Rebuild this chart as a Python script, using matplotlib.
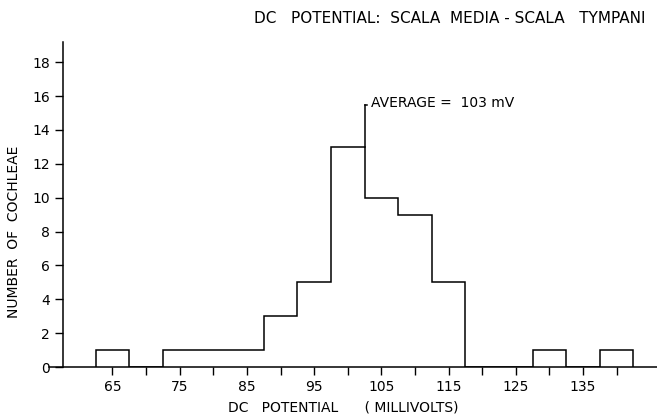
import numpy as np
import matplotlib.pyplot as plt

# bin centres (mV) and number of cochleae in each 5 mV bin
centres = [65, 70, 75, 80, 85, 90, 95, 100, 105, 110, 115, 120, 125, 130, 135, 140]
counts = [1, 0, 1, 1, 1, 3, 5, 13, 10, 9, 5, 0, 0, 1, 0, 1]
average = 103
xticks = [65, 75, 85, 95, 105, 115, 125, 135]
yticks = [0, 2, 4, 6, 8, 10, 12, 14, 16, 18]

edges = np.append(np.array(centres) - 2.5, centres[-1] + 2.5)

fig = plt.figure(figsize=(6.57, 4.19), dpi=100)
ax = fig.add_axes([0.074, 0.124, 0.926, 0.776])

ax.stairs(counts, edges, color="black", lw=1.1, baseline=0)

# average marker sits on the right edge of the peak bin
peak = int(np.argmax(counts))
xa = edges[peak + 1]
ax.plot([xa, xa], [counts[peak], 15.5], color="black", lw=1.1)
ax.plot([xa, xa + 0.3], [15.5, 15.5], color="black", lw=1.1)
ax.text(xa + 0.9, 15.6, "AVERAGE =  %d mV" % average, fontsize=10, va="center")

ax.set_xlim(55.5, 146)
ax.set_ylim(0, 19.2)
ax.spines["left"].set_position(("data", 57.7))
ax.spines["top"].set_visible(False)
ax.spines["right"].set_visible(False)
ax.spines["bottom"].set_linewidth(1.1)
ax.spines["left"].set_linewidth(1.1)

ax.set_xticks(np.arange(65, 145, 5), minor=True)
ax.set_xticks(xticks)
ax.set_xticklabels([str(t) for t in xticks], fontsize=10)
ax.tick_params(axis="x", which="both", direction="out", length=6, width=1)
ax.set_yticks(yticks)
ax.set_yticklabels([str(t) for t in yticks], fontsize=10)
ax.tick_params(axis="y", direction="out", length=6, width=1)

fig.text(0.523, 0.027, "DC   POTENTIAL      ( MILLIVOLTS)", fontsize=10, ha="center", va="center")
fig.text(0.021, 0.446, "NUMBER  OF  COCHLEAE", fontsize=10, rotation=90, ha="center", va="center")
fig.text(0.685, 0.957, "DC   POTENTIAL:  SCALA  MEDIA - SCALA   TYMPANI", fontsize=11, ha="center", va="center")

fig.savefig("out.png", dpi=100)
